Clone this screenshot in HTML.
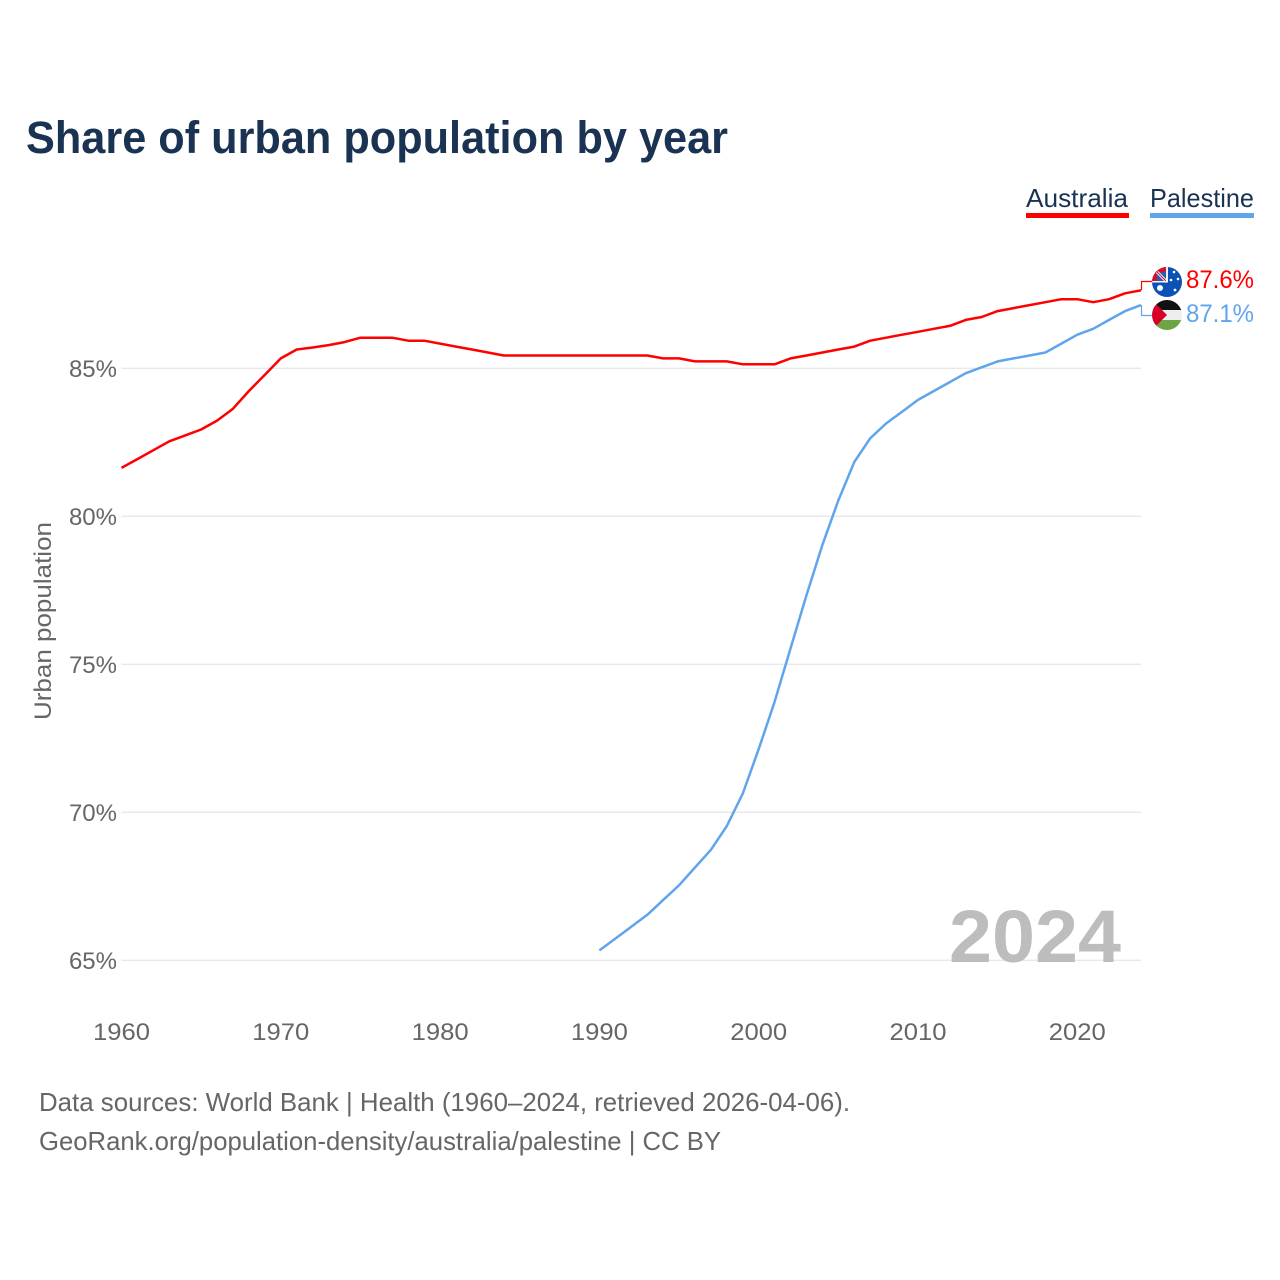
<!DOCTYPE html>
<html lang="en">
<head>
<meta charset="utf-8">
<title>Share of urban population by year</title>
<style>
html,body{margin:0;padding:0;background:#fff;}
svg{display:block;}
text{font-family:"Liberation Sans",sans-serif;}
</style>
</head>
<body>
<svg id="chart" xmlns="http://www.w3.org/2000/svg" width="1280" height="1280" viewBox="0 0 1280 1280">
  <defs>
    <clipPath id="clip-au"><circle cx="1167" cy="282" r="15"/></clipPath>
    <clipPath id="clip-ps"><circle cx="1167" cy="315" r="15"/></clipPath>
  </defs>
  <rect width="1280" height="1280" fill="#fff"/>
  <text x="26" y="153" font-size="45" font-weight="700" fill="#1a3353" textLength="702" lengthAdjust="spacingAndGlyphs">Share of urban population by year</text>

  <g>
    <text x="1026" y="207" font-size="26" fill="#1a3353" textLength="102" lengthAdjust="spacingAndGlyphs">Australia</text>
    <rect x="1026" y="213" width="103" height="5" fill="#ff0000"/>
  </g>
  <g>
    <text x="1150" y="207" font-size="26" fill="#1a3353" textLength="104" lengthAdjust="spacingAndGlyphs">Palestine</text>
    <rect x="1150" y="213" width="104" height="5" fill="#60a5ec"/>
  </g>

  <g id="grid"></g>
  <g id="yticks"></g>
  <g id="xticks"></g>
  <text transform="translate(51,621) rotate(-90)" text-anchor="middle" font-size="24" fill="#666" textLength="198" lengthAdjust="spacingAndGlyphs">Urban population</text>

  <text x="949" y="962" font-size="74" font-weight="700" fill="#bdbdbd" textLength="172" lengthAdjust="spacingAndGlyphs">2024</text>

  <path id="line-au" fill="none" stroke="#ff0000" stroke-width="2.5" stroke-linejoin="round"/>
  <path id="line-ps" fill="none" stroke="#60a5ec" stroke-width="2.5" stroke-linejoin="round"/>
  <path id="conn-au" fill="none" stroke="#ff0000" stroke-width="1.2"/>
  <path id="conn-ps" fill="none" stroke="#60a5ec" stroke-width="1.2"/>

  <g clip-path="url(#clip-au)">
    <rect x="1152" y="267" width="30" height="30" fill="#0b52b5"/>
    <rect x="1152" y="267" width="15" height="15" fill="#d8102e"/>
    <rect x="1157" y="272" width="10" height="10" fill="#2a5cb0"/>
    <path d="M1157 272L1167 282" stroke="#f4f4f4" stroke-width="3"/>
    <path d="M1157 272L1167 282" stroke="#d8102e" stroke-width="1"/>
    <rect x="1166" y="267" width="2" height="15" fill="#f4f4f4"/>
    <rect x="1152" y="281" width="16" height="1.500" fill="#f4f4f4"/>
    <circle cx="1160" cy="288" r="3" fill="#fff"/>
    <circle cx="1174" cy="272" r="1.300" fill="#fff"/>
    <circle cx="1178" cy="279" r="1.300" fill="#fff"/>
    <circle cx="1171" cy="280" r="1.300" fill="#fff"/>
    <circle cx="1175" cy="290" r="1.400" fill="#fff"/>
  </g>
  <g clip-path="url(#clip-ps)">
    <rect x="1152" y="300" width="30" height="10" fill="#111"/>
    <rect x="1152" y="310" width="30" height="10" fill="#eee"/>
    <rect x="1152" y="320" width="30" height="10" fill="#6da544"/>
    <path d="M1152 300L1167 315L1152 330Z" fill="#d80027"/>
  </g>

  <text id="value-au" x="1186" y="288" font-size="25" fill="#ff0000" textLength="68" lengthAdjust="spacingAndGlyphs"></text>
  <text id="value-ps" x="1186" y="322" font-size="25" fill="#60a5ec" textLength="68" lengthAdjust="spacingAndGlyphs"></text>

  <text x="39" y="1111" font-size="26" fill="#666" textLength="811" lengthAdjust="spacingAndGlyphs">Data sources: World Bank | Health (1960–2024, retrieved 2026-04-06).</text>
  <text x="39" y="1150" font-size="26" fill="#666" textLength="682" lengthAdjust="spacingAndGlyphs">GeoRank.org/population-density/australia/palestine | CC BY</text>
</svg>
<script>
const yTickValues = [65, 70, 75, 80, 85];
const xTickYears = [1960, 1970, 1980, 1990, 2000, 2010, 2020];
const australiaStart = 1960;
const australiaValues = [81.6,81.9,82.2,82.5,82.7,82.9,83.2,83.6,84.2,84.75,85.3,85.6,85.67,85.75,85.85,86,86,86,85.9,85.9,85.8,85.7,85.6,85.5,85.4,85.4,85.4,85.4,85.4,85.4,85.4,85.4,85.4,85.4,85.3,85.3,85.2,85.2,85.2,85.1,85.1,85.1,85.3,85.4,85.5,85.6,85.7,85.9,86,86.1,86.2,86.3,86.4,86.6,86.7,86.9,87,87.1,87.2,87.3,87.3,87.2,87.3,87.5,87.6];
const palestineStart = 1990;
const palestineValues = [65.3,65.7,66.1,66.5,67,67.5,68.1,68.7,69.5,70.6,72.1,73.7,75.5,77.3,79,80.5,81.8,82.6,83.1,83.5,83.9,84.2,84.5,84.8,85,85.2,85.3,85.4,85.5,85.8,86.1,86.3,86.6,86.9,87.1];

const SVG_NS = 'http://www.w3.org/2000/svg';
function xScale(year) { return 121.5 + (year - 1960) * (1141 - 121.5) / 64; }
function yScale(v) { return 960.3 - (v - 65) * (960.3 - 368.3) / 20; }
function seriesY(v) { return yScale(v) - 1; }
function linePath(start, values) {
  return values.map(function (v, i) {
    return (i ? 'L' : 'M') + xScale(start + i).toFixed(1) + ' ' + seriesY(v).toFixed(1);
  }).join('');
}

const grid = document.getElementById('grid');
const yticks = document.getElementById('yticks');
const xticks = document.getElementById('xticks');

yTickValues.forEach(function (v) {
  const line = document.createElementNS(SVG_NS, 'line');
  
  
  line.setAttribute('x1', 121.5);
  line.setAttribute('x2', 1141);
  line.setAttribute('y1', yScale(v));
  line.setAttribute('y2', yScale(v));
  line.setAttribute('stroke', '#e8e8e8');
  line.setAttribute('stroke-width', 1.4);
  grid.appendChild(line);

  const label = document.createElementNS(SVG_NS, 'text');
  
  
  label.setAttribute('x', 117);
  label.setAttribute('y', yScale(v) + 8.5);
  label.setAttribute('text-anchor', 'end');
  label.setAttribute('font-size', 24);
  label.setAttribute('fill', '#666');
  label.textContent = v + '%';
  yticks.appendChild(label);
});

xTickYears.forEach(function (year) {
  const label = document.createElementNS(SVG_NS, 'text');
  
  
  label.setAttribute('x', xScale(year));
  label.setAttribute('y', 1040);
  label.setAttribute('text-anchor', 'middle');
  label.setAttribute('font-size', 24);
  label.setAttribute('fill', '#666');
  label.setAttribute('textLength', 57);
  label.setAttribute('lengthAdjust', 'spacingAndGlyphs');
  label.textContent = String(year);
  xticks.appendChild(label);
});

document.getElementById('line-au').setAttribute('d', linePath(australiaStart, australiaValues));
document.getElementById('line-ps').setAttribute('d', linePath(palestineStart, palestineValues));

const lastAu = australiaValues[australiaValues.length - 1];
const lastPs = palestineValues[palestineValues.length - 1];
document.getElementById('conn-au').setAttribute('d', 'M1141.500 ' + seriesY(lastAu).toFixed(1) + 'V281.500H1152');
document.getElementById('conn-ps').setAttribute('d', 'M1141.500 ' + seriesY(lastPs).toFixed(1) + 'V315.500H1152');
document.getElementById('value-au').textContent = lastAu.toFixed(1) + '%';
document.getElementById('value-ps').textContent = lastPs.toFixed(1) + '%';
</script>
</body>
</html>
